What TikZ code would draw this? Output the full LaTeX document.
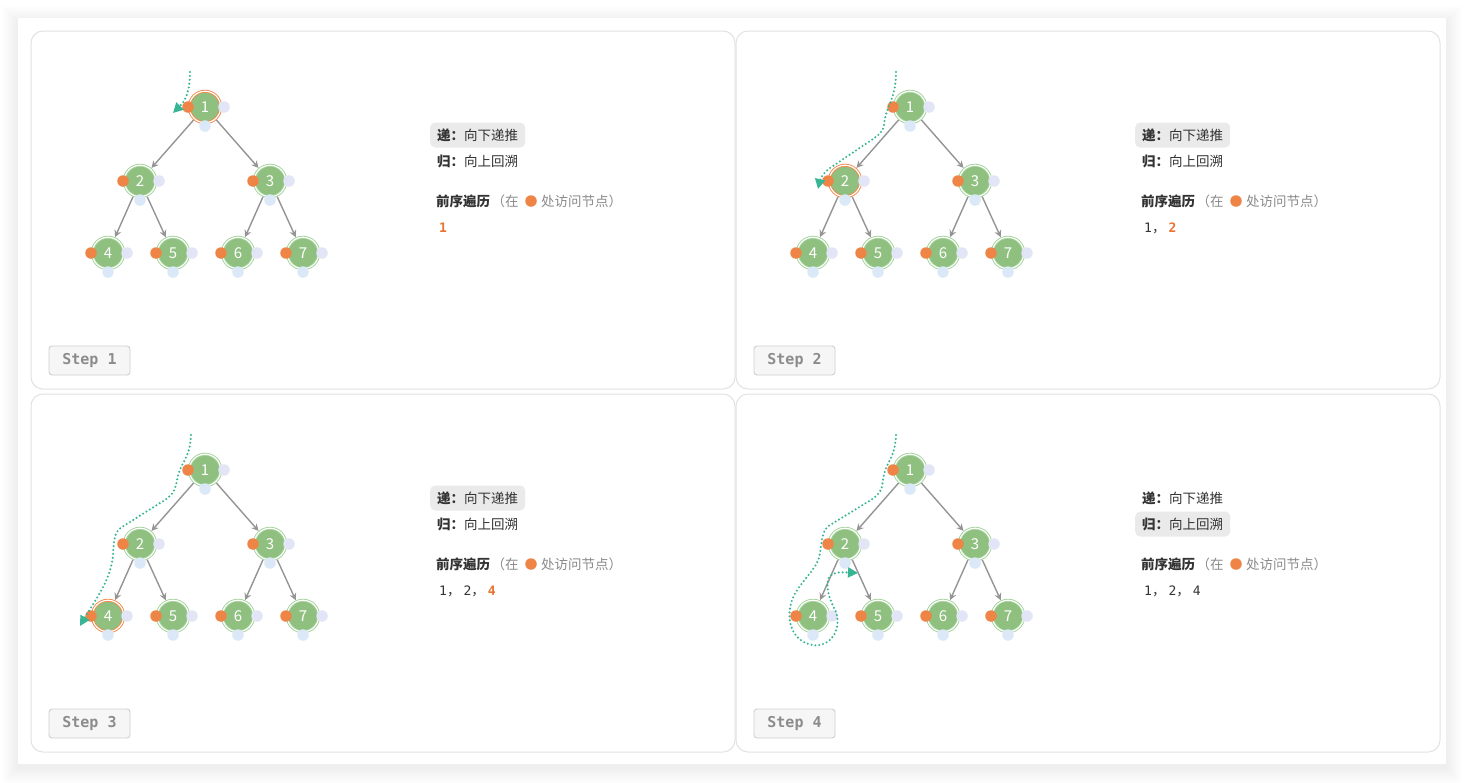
\documentclass[tikz,border=0pt]{standalone}
\usepackage{fontspec}
\newfontfamily\cjk{Noto Sans CJK SC}
\newfontfamily\monofont{DejaVu Sans Mono}
\usetikzlibrary{arrows.meta}
\definecolor{nodefill}{HTML}{8FC080}
\definecolor{ringgreen}{HTML}{A3D39A}
\definecolor{hlorange}{HTML}{F08A4B}
\definecolor{dotorange}{HTML}{EE8446}
\definecolor{dotlav}{HTML}{E1E5F6}
\definecolor{dotblue}{HTML}{DAE8F8}
\definecolor{edgegray}{HTML}{959595}
\definecolor{walkteal}{HTML}{38B594}
\definecolor{panelline}{HTML}{E2E2E2}
\definecolor{chipfill}{HTML}{EAEAEA}
\definecolor{txtdark}{HTML}{333333}
\definecolor{txtgray}{HTML}{8A8A8A}
\definecolor{seqorange}{HTML}{EA7330}
\definecolor{stepfill}{HTML}{F6F6F6}
\definecolor{stepline}{HTML}{CFCFCF}
\definecolor{steptext}{HTML}{8C8C8C}
\newcommand\sq[1]{{\monofont\fontsize{13}{15}\selectfont #1}}
\newcommand\sqhl[1]{{\color{seqorange}\monofont\bfseries\fontsize{13}{15}\selectfont #1}}
\tikzset{
  tnode/.style={circle, minimum size=31.5pt, inner sep=0pt, outer sep=1.6pt, fill=nodefill, draw=ringgreen, double=white, double distance=1.2pt, line width=0.9pt, text=white, font=\cjk\fontsize{15}{15}\selectfont},
  hlnode/.style={tnode, draw=hlorange},
  dotbase/.style={circle, minimum size=11.5pt, inner sep=0pt},
  dotL/.style={dotbase, fill=dotorange},
  dotR/.style={dotbase, fill=dotlav},
  dotB/.style={dotbase, fill=dotblue},
  edge/.style={draw=edgegray, line width=1.4pt, -{Stealth[length=7pt,width=7pt]}},
  walk/.style={draw=walkteal, line width=2.3pt, line cap=round, dash pattern=on 0pt off 3.9pt, -{Triangle[length=10pt,width=10pt,fill=walkteal]}},
  panel/.style={draw=panelline, line width=1pt, rounded corners=12pt, fill=white},
  chip/.style={anchor=west, inner xsep=7pt, inner ysep=0pt, minimum height=25pt, rounded corners=5pt, text=txtdark, font=\cjk\fontsize{13.5}{15}\selectfont},
  chipon/.style={chip, fill=chipfill},
  plain/.style={anchor=west, inner sep=0pt, font=\cjk\fontsize{13.5}{15}\selectfont},
  stepbox/.style={draw=stepline, fill=stepfill, rounded corners=3pt, line width=0.9pt, minimum width=81pt, minimum height=29pt, inner sep=0pt, text=steptext, font=\monofont\bfseries\fontsize{15}{15}\selectfont},
}
\newcommand\drawtree[4]{%
  \foreach \n/\tx/\ty in {1/205/107,2/140/181,3/270/181,4/108/253,5/173/253,6/238/253,7/303/253}{%
    \ifnum\n=#4\relax
      \node[hlnode] (#1n\n) at (\tx+#2,\ty+#3) {\n};
    \else
      \node[tnode] (#1n\n) at (\tx+#2,\ty+#3) {\n};
    \fi
  }%
  \foreach \a/\b in {1/2,1/3,2/4,2/5,3/6,3/7}{\draw[edge] (#1n\a) -- (#1n\b);}%
  \foreach \n/\tx/\ty in {1/205/107,2/140/181,3/270/181,4/108/253,5/173/253,6/238/253,7/303/253}{%
    \node[dotL] (#1l\n) at (\tx+#2-17,\ty+#3) {};
    \node[dotR] (#1r\n) at (\tx+#2+19,\ty+#3) {};
    \node[dotB] (#1b\n) at (\tx+#2,\ty+#3+19) {};
  }%
}
\newcommand\infopanel[4]{%
  \ifnum#4=1\relax
    \node[chipon] (#1ta) at (430+#2,135+#3) {{\bfseries 递：}向下递推};
    \node[chip] (#1tb) at (430+#2,161+#3) {{\bfseries 归：}向上回溯};
  \else
    \node[chip] (#1ta) at (430+#2,135+#3) {{\bfseries 递：}向下递推};
    \node[chipon] (#1tb) at (430+#2,161+#3) {{\bfseries 归：}向上回溯};
  \fi
  \node[plain, text=txtdark] (#1tc) at (436+#2,201+#3) {\bfseries 前序遍历};
  \node[plain, text=txtgray] (#1td) at ([xshift=1pt]#1tc.east) {（在};
  \node[dotbase, fill=dotorange] (#1te) at (531+#2,201+#3) {};
  \node[plain, text=txtgray] (#1tf) at (541+#2,201+#3) {处访问节点）};
}
\begin{document}
\begin{tikzpicture}[x=1pt,y=-1pt]
\useasboundingbox (0,0) rectangle (1464,782);
\fill[white] (0,0) rectangle (1464,782);
\foreach \i in {1,...,16}{\fill[black, opacity=0.0045] (18-\i,18-\i+4) rectangle (1446+\i,764+\i+4);}
\fill[white] (18,18) rectangle (1446,764);
% panels
\draw[panel] (31,31) rectangle (735,389);
\draw[panel] (736,31) rectangle (1440,389);
\draw[panel] (31,394) rectangle (735,752);
\draw[panel] (736,394) rectangle (1440,752);
% trees
\drawtree{A}{0}{0}{1}
\drawtree{B}{705}{0}{2}
\drawtree{C}{0}{363}{4}
\drawtree{D}{705}{363}{0}
% info
\infopanel{A}{0}{0}{1}
\infopanel{B}{705}{0}{1}
\infopanel{C}{0}{363}{1}
\infopanel{D}{705}{363}{2}
\node[plain] (As) at (439,228) {\sqhl{1}};
\node[plain, text=txtdark] (Bs) at (1144,228) {\sq{1}，\ \sqhl{2}};
\node[plain, text=txtdark] (Cs) at (439,591) {\sq{1}，\ \sq{2}，\ \sqhl{4}};
\node[plain, text=txtdark] (Ds) at (1144,591) {\sq{1}，\ \sq{2}，\ \sq{4}};
% step labels
\node[stepbox] (Ast) at (89.5,360.5) {Step 1};
\node[stepbox] (Bst) at (794.5,360.5) {Step 2};
\node[stepbox] (Cst) at (89.5,723.5) {Step 3};
\node[stepbox] (Dst) at (794.5,723.5) {Step 4};
% walks
\coordinate (Aw0) at (190,72);
\coordinate (Aw1) at (173,113);
\draw[walk] (Aw0) .. controls (190,92) and (185,101) .. (Aw1);
\coordinate (Bw0) at (896,72);
\coordinate (Bw1) at (818,189);
\draw[walk] (Bw0) .. controls (896,100) and (886,105) .. (884,125) .. controls (883,132) and (880,134) .. (870,141) -- (830,168) .. controls (822,174) and (820,180) .. (Bw1);
\coordinate (Cw0) at (191,435);
\coordinate (Cw1) at (80,626);
\draw[walk] (Cw0) .. controls (190,460) and (180,462) .. (177,480) .. controls (175,492) and (172,496) .. (160,503) -- (122,527) .. controls (114,532) and (114,540) .. (113,555) .. controls (111,580) and (95,600) .. (Cw1);
\coordinate (Dw0) at (896,435);
\coordinate (Dw1) at (858,573);
\draw[walk] (Dw0) .. controls (895,460) and (885,462) .. (883,480) .. controls (882,492) and (878,496) .. (866,503) -- (830,525) .. controls (822,530) and (822,540) .. (820,553) .. controls (818,570) and (800,580) .. (792,600) .. controls (786,618) and (790,640) .. (812,645) .. controls (830,648) and (842,630) .. (836,612) .. controls (830,600) and (826,590) .. (828,580) .. controls (830,572) and (840,572) .. (Dw1);
\end{tikzpicture}
\end{document}
